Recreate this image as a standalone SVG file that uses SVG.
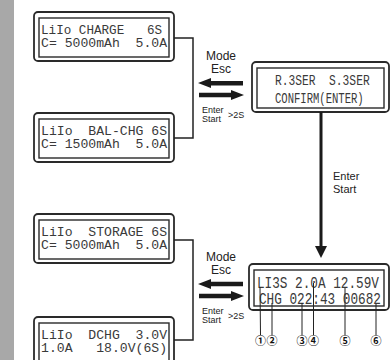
<svg xmlns="http://www.w3.org/2000/svg" width="390" height="360" viewBox="0 0 390 360">
<defs>
<style>
.outer{fill:#fff;stroke:#2a2a2a;stroke-width:1.8}
.inner{fill:none;stroke:#2a2a2a;stroke-width:1.4}
.lcd{font-family:"Liberation Mono","DejaVu Sans Mono",monospace;font-size:12px;fill:#3a3a3a;white-space:pre}
.lcd2{font-family:"Liberation Mono","DejaVu Sans Mono",monospace;font-size:12px;fill:#3a3a3a;white-space:pre}
.lbl{font-family:"Liberation Sans",Arial,sans-serif;font-size:12px;fill:#222}
.sm{font-family:"Liberation Sans",Arial,sans-serif;font-size:9px;fill:#222}
.mid{font-family:"Liberation Sans",Arial,sans-serif;font-size:11px;fill:#222}
.num{font-family:"Noto Sans CJK SC","DejaVu Sans",sans-serif;font-size:11px;font-weight:700;fill:#111;text-anchor:middle}
.line{fill:none;stroke:#222;stroke-width:1.5}
.thin{fill:none;stroke:#222;stroke-width:1}
.arr{fill:#1a1a1a}
</style>
</defs>
<rect x="0" y="0" width="14" height="360" fill="#a8a8a8"/>

<g id="node-charge">
<rect class="outer" x="34" y="12" width="140" height="49" rx="4"/>
<rect class="inner" x="39" y="18" width="130" height="39"/>
<text class="lcd" x="41" y="34" textLength="121" lengthAdjust="spacingAndGlyphs">LiIo CHARGE   6S</text>
<text class="lcd" x="41" y="47" textLength="126" lengthAdjust="spacingAndGlyphs">C= 5000mAh  5.0A</text>
</g>
<g id="node-balchg">
<rect class="outer" x="34" y="113" width="140" height="49" rx="4"/>
<rect class="inner" x="39" y="119" width="130" height="39"/>
<text class="lcd" x="41" y="135" textLength="126" lengthAdjust="spacingAndGlyphs">LiIo  BAL-CHG 6S</text>
<text class="lcd" x="41" y="148" textLength="126" lengthAdjust="spacingAndGlyphs">C= 1500mAh  5.0A</text>
</g>
<g id="node-storage">
<rect class="outer" x="34" y="214" width="140" height="49" rx="4"/>
<rect class="inner" x="39" y="220" width="130" height="39"/>
<text class="lcd" x="41" y="236" textLength="126" lengthAdjust="spacingAndGlyphs">LiIo  STORAGE 6S</text>
<text class="lcd" x="41" y="249" textLength="126" lengthAdjust="spacingAndGlyphs">C= 5000mAh  5.0A</text>
</g>
<g id="node-dchg">
<rect class="outer" x="34" y="317" width="140" height="49" rx="4"/>
<rect class="inner" x="39" y="323" width="130" height="39"/>
<text class="lcd" x="41" y="339" textLength="126" lengthAdjust="spacingAndGlyphs">LiIo  DCHG  3.0V</text>
<text class="lcd" x="41" y="352" textLength="126" lengthAdjust="spacingAndGlyphs">1.0A   18.0V(6S)</text>
</g>
<g id="node-confirm">
<rect class="outer" x="252" y="62" width="137" height="50" rx="4"/>
<rect class="inner" x="257" y="68" width="127" height="40"/>
<text class="lcd2" transform="translate(275,85) scale(0.94,1.27)">R.3SER  S.3SER</text>
<text class="lcd2" transform="translate(275,103) scale(0.88,1.27)">CONFIRM(ENTER)</text>
</g>
<g id="node-status">
<rect class="outer" x="249" y="264" width="140" height="46" rx="4"/>
<rect class="inner" x="254" y="270" width="130" height="36"/>
<text class="lcd2" transform="translate(257,288) scale(1.06,1.35)">LI3S 2.0A 12.59V</text>
<text class="lcd2" transform="translate(259,304) scale(1.06,1.35)">CHG 022:43 00682</text>
</g>

<g id="connectors">
<polyline class="line" points="174,38 193,38 193,138 174,138"/>
<polyline class="line" points="174,240 193,240 193,340 174,340"/>
<path class="arr" d="M198,83 L211,78 L211,81 L243,81 L243,85.5 L211,85.5 L211,88 Z"/>
<path class="arr" d="M244,95 L231,90 L231,92.8 L199,92.8 L199,97.2 L231,97.2 L231,100 Z"/>
<path class="arr" d="M198,284 L211,279 L211,281.8 L243,281.8 L243,286.2 L211,286.2 L211,289 Z"/>
<path class="arr" d="M244,296 L231,291 L231,293.8 L199,293.8 L199,298.2 L231,298.2 L231,301 Z"/>
<rect class="arr" x="319.5" y="112" width="3" height="135"/>
<path class="arr" d="M315,246 L327,246 L321,258 Z"/>
<line class="thin" x1="260" y1="287" x2="260.5" y2="335"/>
<line class="thin" x1="272" y1="303" x2="272" y2="335"/>
<line class="thin" x1="302" y1="303" x2="302" y2="335"/>
<line class="thin" x1="313.5" y1="283" x2="313.5" y2="335"/>
<line class="thin" x1="345" y1="288" x2="345" y2="335"/>
<line class="thin" x1="376" y1="304" x2="376" y2="335"/>
</g>

<g id="labels">
<text class="lbl" x="221" y="60" text-anchor="middle">Mode</text>
<text class="lbl" x="221" y="73" text-anchor="middle">Esc</text>
<text class="sm" x="202" y="113">Enter</text>
<text class="sm" x="202" y="122">Start</text>
<text class="sm" x="228" y="118">&gt;2S</text>
<text class="lbl" x="221" y="261" text-anchor="middle">Mode</text>
<text class="lbl" x="221" y="274" text-anchor="middle">Esc</text>
<text class="sm" x="202" y="314">Enter</text>
<text class="sm" x="202" y="323">Start</text>
<text class="sm" x="228" y="319">&gt;2S</text>
<text class="mid" x="333" y="180">Enter</text>
<text class="mid" x="333" y="193">Start</text>
<text class="num" x="260.5" y="345">①</text>
<text class="num" x="272" y="345">②</text>
<text class="num" x="302" y="345">③</text>
<text class="num" x="313.5" y="345">④</text>
<text class="num" x="345" y="345">⑤</text>
<text class="num" x="376" y="345">⑥</text>
</g>
</svg>
